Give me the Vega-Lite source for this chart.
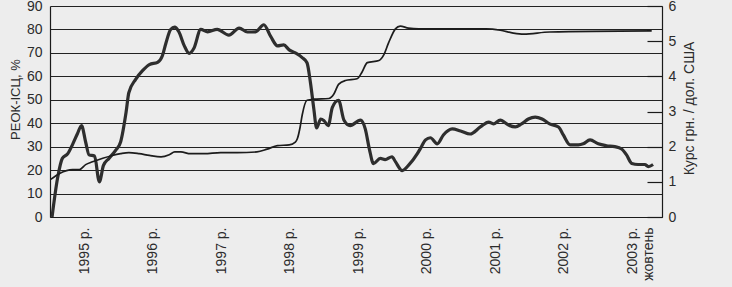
{
  "$schema": "https://vega.github.io/schema/vega-lite/v6.json",
  "width": 612,
  "height": 211,
  "autosize": {"type": "none"},
  "padding": {"left": 50, "top": 6, "right": 70, "bottom": 70},
  "background": "#ededed",
  "config": {
    "font": "Liberation Sans",
    "view": {"stroke": null},
    "axis": {"labelFont": "Liberation Sans", "titleFont": "Liberation Sans", "labelColor": "#2b2b2b", "titleColor": "#2b2b2b", "titleFontWeight": "normal", "domainColor": "#1a1a1a", "domainWidth": 1.2}
  },
  "datasets": {
    "reok": [
      {"t": 1995.03, "v": 0}, {"t": 1995.11, "v": 16.5}, {"t": 1995.18, "v": 25}, {"t": 1995.26, "v": 27},
      {"t": 1995.33, "v": 31}, {"t": 1995.40, "v": 35.5}, {"t": 1995.46, "v": 39}, {"t": 1995.52, "v": 32},
      {"t": 1995.57, "v": 26.5}, {"t": 1995.65, "v": 26}, {"t": 1995.72, "v": 15}, {"t": 1995.78, "v": 22},
      {"t": 1995.86, "v": 25}, {"t": 1995.96, "v": 28.5}, {"t": 1996.03, "v": 32}, {"t": 1996.11, "v": 44.7},
      {"t": 1996.15, "v": 53}, {"t": 1996.25, "v": 58.7}, {"t": 1996.35, "v": 62.4}, {"t": 1996.45, "v": 65},
      {"t": 1996.57, "v": 66}, {"t": 1996.64, "v": 68.8}, {"t": 1996.69, "v": 74}, {"t": 1996.76, "v": 80},
      {"t": 1996.82, "v": 81}, {"t": 1996.88, "v": 79}, {"t": 1996.96, "v": 73}, {"t": 1997.03, "v": 69.8},
      {"t": 1997.10, "v": 72}, {"t": 1997.20, "v": 80}, {"t": 1997.30, "v": 79}, {"t": 1997.44, "v": 80},
      {"t": 1997.61, "v": 77.6}, {"t": 1997.76, "v": 80.6}, {"t": 1997.88, "v": 78.9}, {"t": 1998.00, "v": 79},
      {"t": 1998.12, "v": 82}, {"t": 1998.22, "v": 77}, {"t": 1998.32, "v": 73}, {"t": 1998.41, "v": 73.4},
      {"t": 1998.49, "v": 71.3}, {"t": 1998.58, "v": 70}, {"t": 1998.68, "v": 68}, {"t": 1998.75, "v": 65.8},
      {"t": 1998.80, "v": 57.4}, {"t": 1998.85, "v": 46}, {"t": 1998.89, "v": 38}, {"t": 1998.95, "v": 41.8},
      {"t": 1999.00, "v": 41}, {"t": 1999.06, "v": 39}, {"t": 1999.12, "v": 46.8}, {"t": 1999.21, "v": 49.8},
      {"t": 1999.29, "v": 41.3}, {"t": 1999.38, "v": 39}, {"t": 1999.53, "v": 41.3}, {"t": 1999.60, "v": 37.6},
      {"t": 1999.66, "v": 29}, {"t": 1999.72, "v": 22.8}, {"t": 1999.82, "v": 25}, {"t": 1999.89, "v": 24.5},
      {"t": 1999.99, "v": 25.7}, {"t": 2000.04, "v": 23.6}, {"t": 2000.14, "v": 19.8}, {"t": 2000.23, "v": 22},
      {"t": 2000.36, "v": 27}, {"t": 2000.41, "v": 29.5}, {"t": 2000.48, "v": 32.9}, {"t": 2000.55, "v": 33.8},
      {"t": 2000.65, "v": 31.2}, {"t": 2000.74, "v": 35}, {"t": 2000.87, "v": 37.6}, {"t": 2000.99, "v": 36.7},
      {"t": 2001.13, "v": 35.4}, {"t": 2001.28, "v": 38.4}, {"t": 2001.40, "v": 40.5}, {"t": 2001.47, "v": 39.7},
      {"t": 2001.57, "v": 41.3}, {"t": 2001.69, "v": 39.2}, {"t": 2001.79, "v": 38.4}, {"t": 2001.88, "v": 39.7},
      {"t": 2001.98, "v": 41.8}, {"t": 2002.08, "v": 42.6}, {"t": 2002.18, "v": 41.8}, {"t": 2002.29, "v": 39.7},
      {"t": 2002.42, "v": 38.4}, {"t": 2002.49, "v": 35}, {"t": 2002.59, "v": 30.8}, {"t": 2002.71, "v": 30.8},
      {"t": 2002.78, "v": 31.2}, {"t": 2002.88, "v": 32.9}, {"t": 2003.00, "v": 31.2}, {"t": 2003.12, "v": 30.4},
      {"t": 2003.24, "v": 30}, {"t": 2003.34, "v": 29}, {"t": 2003.41, "v": 26.6}, {"t": 2003.49, "v": 22.8},
      {"t": 2003.58, "v": 22.4}, {"t": 2003.68, "v": 22.4}, {"t": 2003.73, "v": 21.5}, {"t": 2003.80, "v": 22.4}
    ],
    "kurs": [
      {"t": 1995.01, "k": 1.07}, {"t": 1995.14, "k": 1.24}, {"t": 1995.33, "k": 1.35}, {"t": 1995.43, "k": 1.35},
      {"t": 1995.52, "k": 1.49}, {"t": 1995.62, "k": 1.57}, {"t": 1995.77, "k": 1.67}, {"t": 1995.91, "k": 1.75},
      {"t": 1996.03, "k": 1.80}, {"t": 1996.15, "k": 1.83}, {"t": 1996.30, "k": 1.80}, {"t": 1996.45, "k": 1.75},
      {"t": 1996.62, "k": 1.71}, {"t": 1996.74, "k": 1.77}, {"t": 1996.82, "k": 1.85}, {"t": 1996.91, "k": 1.85},
      {"t": 1997.05, "k": 1.80}, {"t": 1997.25, "k": 1.80}, {"t": 1997.49, "k": 1.83}, {"t": 1997.73, "k": 1.83},
      {"t": 1998.02, "k": 1.85}, {"t": 1998.17, "k": 1.93}, {"t": 1998.32, "k": 2.03}, {"t": 1998.49, "k": 2.05},
      {"t": 1998.58, "k": 2.13}, {"t": 1998.61, "k": 2.23}, {"t": 1998.65, "k": 2.56}, {"t": 1998.68, "k": 2.90},
      {"t": 1998.75, "k": 3.32}, {"t": 1998.85, "k": 3.35}, {"t": 1999.07, "k": 3.37}, {"t": 1999.14, "k": 3.49},
      {"t": 1999.21, "k": 3.77}, {"t": 1999.31, "k": 3.88}, {"t": 1999.48, "k": 3.93}, {"t": 1999.55, "k": 4.11},
      {"t": 1999.63, "k": 4.39}, {"t": 1999.80, "k": 4.45}, {"t": 1999.87, "k": 4.61}, {"t": 1999.94, "k": 4.95},
      {"t": 2000.04, "k": 5.35}, {"t": 2000.11, "k": 5.43}, {"t": 2000.23, "k": 5.37}, {"t": 2000.38, "k": 5.35},
      {"t": 2001.37, "k": 5.35}, {"t": 2001.57, "k": 5.31}, {"t": 2001.76, "k": 5.23}, {"t": 2001.91, "k": 5.20},
      {"t": 2002.29, "k": 5.26}, {"t": 2003.78, "k": 5.29}
    ]
  },
  "layer": [
    {
      "data": {"name": "reok"},
      "mark": {"type": "line", "color": "#2e2e2e", "strokeWidth": 3.2, "interpolate": "monotone"},
      "encoding": {
        "x": {
          "field": "t", "type": "quantitative",
          "scale": {"domain": [1995, 2003.93], "nice": false, "zero": false},
          "axis": {
            "title": null, "grid": false,
            "values": [1995.5, 1996, 1996.5, 1997, 1997.5, 1998, 1998.5, 1999, 1999.5, 2000, 2000.5, 2001, 2001.5, 2002, 2002.5, 2003, 2003.5],
            "labelExpr": "(datum.value % 1) > 0.25 ? (datum.value > 2003 ? ['2003 р.', 'жовтень'] : floor(datum.value) + ' р.') : ''",
            "labelAngle": -90, "labelAlign": "right", "labelBaseline": "middle",
            "labelFontSize": 14, "labelPadding": 23, "labelLineHeight": 16,
            "tickSize": -13, "tickColor": "#333333", "tickWidth": 1,
            "tickOpacity": {"condition": {"test": "(datum.value % 1) > 0.25", "value": 0}, "value": 1},
            "labelOverlap": false, "labelFlush": false
          }
        },
        "y": {
          "field": "v", "type": "quantitative",
          "scale": {"domain": [0, 90], "nice": false},
          "axis": {
            "title": "РЕОК-ІСЦ, %", "titleFontSize": 13,
            "titleX": -35, "titleY": 93, "titleAngle": -90, "titleAlign": "center", "titleBaseline": "middle",
            "values": [0, 10, 20, 30, 40, 50, 60, 70, 80, 90],
            "grid": true, "gridColor": "#222222", "gridWidth": 1,
            "ticks": false, "labelPadding": 8, "labelFontSize": 14
          }
        }
      }
    },
    {
      "data": {"name": "kurs"},
      "mark": {"type": "line", "color": "#1c1c1c", "strokeWidth": 1.7, "interpolate": "monotone"},
      "encoding": {
        "x": {"field": "t", "type": "quantitative"},
        "y": {
          "field": "k", "type": "quantitative",
          "scale": {"domain": [0, 6], "nice": false},
          "axis": {
            "orient": "right", "title": "Курс грн. / дол. США", "titleFontSize": 14,
            "titleX": 27, "titleY": 102, "titleAngle": -90, "titleAlign": "center", "titleBaseline": "middle",
            "values": [0, 1, 2, 3, 4, 5, 6], "grid": false,
            "tickSize": -15, "tickColor": "#1a1a1a", "tickWidth": 1.2,
            "labelPadding": 21, "labelFontSize": 14
          }
        }
      }
    }
  ],
  "resolve": {"scale": {"y": "independent"}}
}
